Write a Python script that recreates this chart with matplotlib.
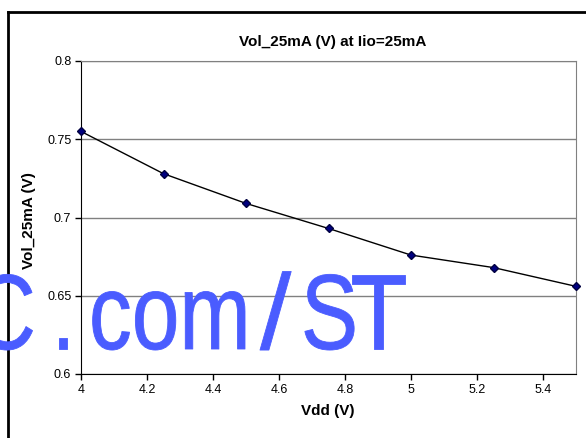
import matplotlib
matplotlib.use("Agg")
import matplotlib.pyplot as plt
from matplotlib.lines import Line2D
from matplotlib import patheffects
from matplotlib.transforms import Affine2D

plt.rcParams["font.family"] = ["Liberation Sans", "DejaVu Sans"]

# data
vdd = [4.0, 4.25, 4.5, 4.75, 5.0, 5.25, 5.5]
vol = [0.755, 0.728, 0.709, 0.693, 0.676, 0.668, 0.656]
xticks = [4, 4.2, 4.4, 4.6, 4.8, 5, 5.2, 5.4]
xtick_labels = ["4", "4.2", "4.4", "4.6", "4.8", "5", "5.2", "5.4"]
yticks = [0.6, 0.65, 0.7, 0.75, 0.8]
ytick_labels = ["0.6", "0.65", "0.7", "0.75", "0.8"]
watermark = ["C", ".", "com", "/", "S", "T"]


class HStretch(patheffects.AbstractPathEffect):
    """Squeeze text horizontally (condensed look), slightly emboldened."""
    def __init__(self, sx, lw=0.6):
        super().__init__()
        self.sx = sx
        self.lw = lw

    def draw_path(self, renderer, gc, tpath, affine, rgbFace=None):
        gc0 = renderer.new_gc()
        gc0.copy_properties(gc)
        gc0.set_linewidth(self.lw)
        gc0.set_foreground(rgbFace)
        gc0.set_joinstyle("round")
        renderer.draw_path(gc0, tpath, Affine2D().scale(self.sx, 1) + affine, rgbFace)
        gc0.restore()


W, H = 586, 438
fig = plt.figure(figsize=(W / 100, H / 100), dpi=100)
ax = fig.add_axes([81 / W, 1 - 374 / H, (576 - 81) / W, (374 - 61) / H])

ax.plot(vdd, vol, color="black", lw=1.0, marker="D", ms=4.5,
        mfc="#000080", mec="#000040", zorder=4, clip_on=False)

ax.set_xlim(4, 5.5)
ax.set_ylim(0.6, 0.8)
ax.set_xticks(xticks)
ax.set_xticklabels(xtick_labels)
ax.set_yticks(yticks)
ax.set_yticklabels(ytick_labels)
ax.tick_params(direction="out", length=4, width=1, labelsize=9, pad=3,
               colors="black")
ax.grid(axis="y", color="#808080", lw=1)
ax.set_axisbelow(True)
for s in ["top", "right"]:
    ax.spines[s].set_color("#808080")
for s in ["left", "bottom"]:
    ax.spines[s].set_color("black")

fig.text(333 / W, 1 - 42 / H, "Vol_25mA (V) at Iio=25mA", ha="center",
         va="center", fontsize=11, fontweight="bold")
fig.text(328 / W, 1 - 411 / H, "Vdd (V)", ha="center", va="center",
         fontsize=11, fontweight="bold")
fig.text(29 / W, 1 - 221 / H, "Vol_25mA (V)", ha="center", va="center",
         rotation=90, fontsize=11, fontweight="bold")

# outer chart frame (cut at right and bottom)
fig.add_artist(Line2D([8 / W, 8 / W], [0, 1 - 12 / H], transform=fig.transFigure,
                      color="black", lw=2))
fig.add_artist(Line2D([8 / W, 1], [1 - 12 / H, 1 - 12 / H], transform=fig.transFigure,
                      color="black", lw=2))

# watermark, condensed blue letters
wm_x = [-26, 51, 89, 260, 301, 350]
wm_sx = [0.8, 0.8, 0.8, 1.05, 0.8, 0.88]
for piece, px, sx in zip(watermark, wm_x, wm_sx):
    fig.text(px / W, 1 - 349 / H, piece, ha="left", va="baseline",
             fontsize=77, color="#4a5cff", zorder=10,
             path_effects=[HStretch(sx)])

fig.savefig("out.png", dpi=100)
